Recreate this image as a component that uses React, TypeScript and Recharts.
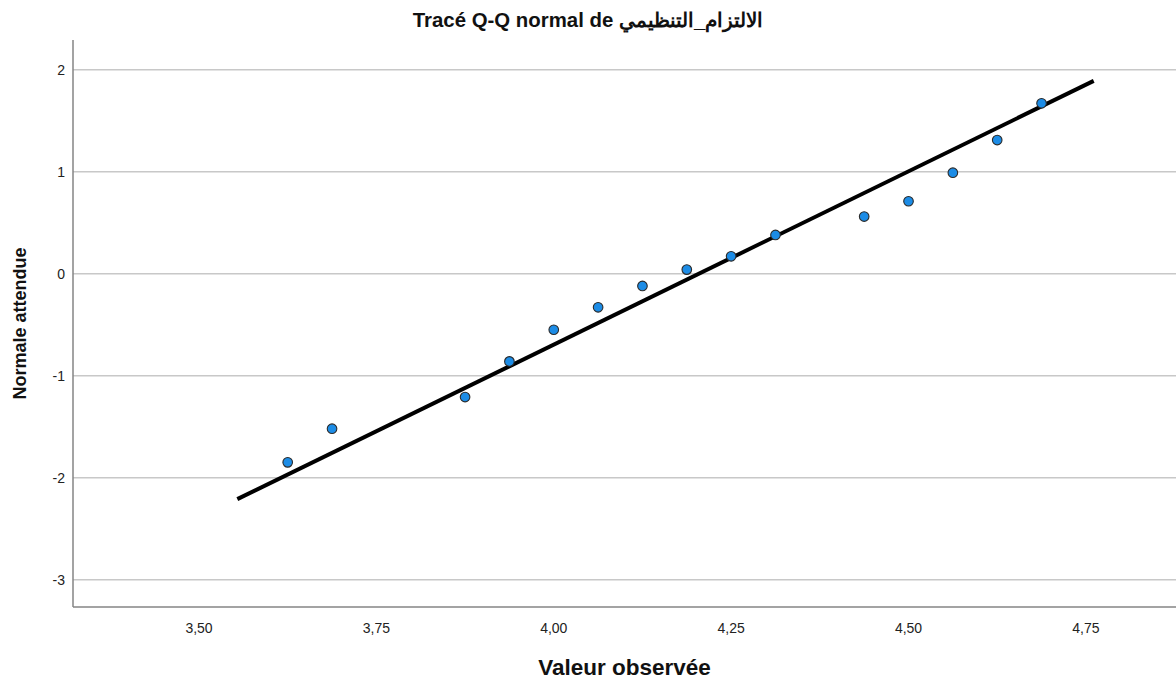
import React from 'react';
import { ScatterChart, Scatter, XAxis, YAxis, ReferenceLine } from 'recharts';

const observedValues = [3.625, 3.6875, 3.875, 3.9375, 4.0, 4.0625, 4.125, 4.1875, 4.25, 4.3125, 4.4375, 4.5, 4.5625, 4.625, 4.6875];
const expectedNormal = [-1.85, -1.52, -1.21, -0.86, -0.55, -0.33, -0.12, 0.04, 0.17, 0.38, 0.56, 0.71, 0.99, 1.31, 1.67];
const lineX = [3.554, 4.761];
const lineY = [-2.21, 1.89];
const xTicks = [3.5, 3.75, 4.0, 4.25, 4.5, 4.75];
const yTicks = [-3, -2, -1, 0, 1, 2];

const points = observedValues.map((x, i) => ({ x, y: expectedNormal[i] }));
const linePts = lineX.map((x, i) => ({ x, y: lineY[i] }));

const FONT = '"Liberation Sans", Arial, sans-serif';

const Dot = (props: any) => {
  const { cx, cy } = props;
  if (cx == null || cy == null) return <g />;
  return <circle cx={cx} cy={cy} r={4.8} fill="#1c8ce6" stroke="#2a2a2a" strokeWidth={1.1} />;
};

export default function App() {
  return (
    <div style={{ position: 'fixed', left: 0, top: 0, width: 1176, height: 684, background: '#fff', fontFamily: FONT }}>
      <div style={{ position: 'absolute', left: 0, top: 0 }}>
        <ScatterChart width={1176} height={684} margin={{ top: 40, right: 0, bottom: 0, left: 13 }}>
          {yTicks.map((t) => (
            <ReferenceLine key={t} y={t} stroke="#c8c8c8" strokeWidth={1.5} />
          ))}
          <XAxis
            type="number"
            dataKey="x"
            domain={[3.3224, 4.877]}
            allowDataOverflow
            ticks={xTicks}
            tickFormatter={(v: number) => v.toFixed(2).replace('.', ',')}
            tickLine={false}
            tickSize={8}
            tickMargin={8}
            axisLine={{ stroke: '#858585', strokeWidth: 1.5 }}
            tick={{ fontSize: 14, fill: '#222', fontFamily: FONT }}
            height={77}
            label={{ value: 'Valeur observée', position: 'insideBottom', offset: 9, fontSize: 22.5, fontWeight: 'bold', fill: '#111', fontFamily: FONT }}
          />
          <YAxis
            type="number"
            dataKey="y"
            domain={[-3.268, 2.291]}
            allowDataOverflow
            ticks={yTicks}
            tickLine={false}
            tickSize={4}
            tickMargin={4}
            axisLine={{ stroke: '#858585', strokeWidth: 1.5 }}
            tick={{ fontSize: 14, fill: '#222', fontFamily: FONT }}
            width={60}
            label={{ value: 'Normale attendue', angle: -90, position: 'insideLeft', offset: 7, fontSize: 18, fontWeight: 'bold', fill: '#111', fontFamily: FONT, style: { textAnchor: 'middle' } }}
          />
          <Scatter data={linePts} line={{ stroke: '#000', strokeWidth: 4 }} shape={() => <g />} isAnimationActive={false} />
          <Scatter data={points} shape={Dot} isAnimationActive={false} />
        </ScatterChart>
      </div>
      <div style={{ position: 'absolute', left: 0, top: 8, width: 1176, textAlign: 'center', fontSize: 20.4, fontWeight: 'bold', color: '#111', lineHeight: '24px' }}>
        Tracé Q-Q normal de الالتزام_التنظيمي
      </div>
    </div>
  );
}
